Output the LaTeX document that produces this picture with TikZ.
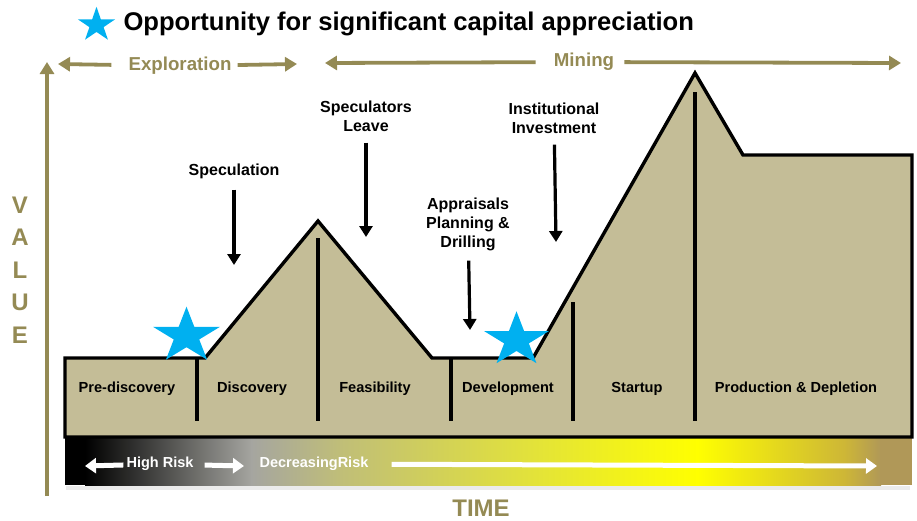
\documentclass[tikz,border=0pt]{standalone}
\usepackage{fontspec}
\setmainfont{Liberation Sans}
\usetikzlibrary{arrows.meta}
\definecolor{phaseolive}{HTML}{948A54}
\definecolor{mountaintan}{HTML}{C4BD97}
\definecolor{starblue}{HTML}{00B0F0}
\definecolor{riskgray}{RGB}{165,165,160}
\definecolor{riskolive}{RGB}{192,190,120}
\definecolor{risklime}{RGB}{228,228,55}
\definecolor{riskgold}{RGB}{205,182,55}
\definecolor{risktan}{RGB}{176,152,88}
\begin{document}
\begin{tikzpicture}[x=1pt, y=-1pt,
    phase/.style={inner sep=2pt, text=phaseolive, font=\fontsize{18.7}{20}\selectfont\bfseries},
    phasearrow/.style={phaseolive, line width=3.8pt, -{Triangle[length=12pt,width=14pt]}},
    axistext/.style={text=phaseolive, font=\fontsize{24}{26}\selectfont\bfseries},
    stage/.style={font=\fontsize{14.6}{16}\selectfont\bfseries},
    note/.style={align=center, inner sep=2pt, font=\fontsize{16}{19}\selectfont\bfseries},
    pointer/.style={line width=3.2pt, -{Triangle[length=11pt,width=13pt]}},
    divider/.style={line width=3.2pt},
    risk/.style={inner sep=2pt, text=white, font=\fontsize{14.5}{16}\selectfont\bfseries},
    riskarrow/.style={white, line width=5pt, -{Triangle[length=11pt,width=15pt]}},
    opstar/.pic={\fill[starblue] (-90:1) -- (-54:.382) -- (-18:1) -- (18:.382) -- (54:1)
      -- (90:.382) -- (126:1) -- (162:.382) -- (198:1) -- (234:.382) -- cycle;}]
  \useasboundingbox (0,0) rectangle (917,520);

  % legend
  \pic[xscale=19.5, yscale=18.2] (legendstar) at (96.5,25) {opstar};
  \node[anchor=west, font=\fontsize{25.6}{28}\selectfont\bfseries] (legend) at (120,24)
    {Opportunity for significant capital appreciation};

  % phases
  \node[phase] (explore) at (180,66) {Exploration};
  \coordinate (exleft) at (58,64);
  \coordinate (exright) at (297,64);
  \draw[phasearrow, shorten <=15pt] (explore) -- (exleft);
  \draw[phasearrow, shorten <=4pt] (explore) -- (exright);
  \node[phase] (mining) at (584,62) {Mining};
  \coordinate (minleft) at (325,63);
  \coordinate (minright) at (901,63);
  \draw[phasearrow, shorten <=16pt] (mining) -- (minleft);
  \draw[phasearrow, shorten <=8pt] (mining) -- (minright);

  % axes
  \coordinate (valuebase) at (47,496);
  \coordinate (valuetop) at (47,62);
  \draw[phasearrow] (valuebase) -- (valuetop);
  \foreach \ch [count=\i] in {V,A,L,U,E}
    \node[axistext] (value\i) at (20,{205+32.5*(\i-1)}) {\ch};
  \node[axistext] (time) at (481,508) {TIME};

  % risk bar
  \fill[black!8] (66,486) rectangle (910,490);
  \fill[black] (65,438) rectangle (86,485);
  \shade[left color=black, right color=riskgray] (85,438) rectangle (252,485);
  \shade[left color=riskgray, right color=riskolive] (251,438) rectangle (341,485);
  \shade[left color=riskolive, right color=risklime] (340,438) rectangle (541,485);
  \shade[left color=risklime, right color=yellow] (540,438) rectangle (698,485);
  \shade[left color=yellow, right color=riskgold] (697,438) rectangle (846,485);
  \shade[left color=riskgold, right color=risktan] (845,438) rectangle (881,485);
  \fill[risktan] (880,438) rectangle (912,485);
  \node[risk] (highrisk) at (160,464) {High Risk};
  \node[risk] (decrisk) at (314,464) {DecreasingRisk};
  \coordinate (riskleft) at (85,466);
  \coordinate (riskright) at (244,466);
  \coordinate (riskend) at (877,466);
  \draw[riskarrow, shorten <=1pt] (highrisk) -- (riskleft);
  \draw[riskarrow, shorten <=9pt] (highrisk) -- (riskright);
  \draw[riskarrow, shorten <=21pt] (decrisk) -- (riskend);

  % value curve
  \draw[line width=3.4pt, fill=mountaintan] (65,358) -- (205,358) -- (318,221) -- (432,358)
    -- (533,358) -- (695,73) -- (743,155) -- (912,155) -- (912,437) -- (65,437) -- cycle;
  \draw[divider] (197,358) -- (197,421);
  \draw[divider] (318,238) -- (318,421);
  \draw[divider] (451,358) -- (451,421);
  \draw[divider] (573,302) -- (573,421);
  \draw[divider] (695,92) -- (695,421);

  \node[stage] (prediscovery) at (127,389) {Pre-discovery};
  \node[stage] (discovery) at (252,389) {Discovery};
  \node[stage] (feasibility) at (375,389) {Feasibility};
  \node[stage] (development) at (508,389) {Development};
  \node[stage] (startup) at (637,389) {Startup};
  \node[stage] (production) at (796,389) {Production \& Depletion};

  \pic[xscale=35, yscale=29.3] (star1) at (186.5,336) {opstar};
  \pic[xscale=34, yscale=28.7] (star2) at (516.5,340) {opstar};

  % events
  \node[note] (speculation) at (234,171) {Speculation};
  \node[note] (leave) at (366,116) {Speculators\\Leave};
  \node[note] (appraisals) at (468,224) {Appraisals\\Planning \&\\Drilling};
  \node[note] (institution) at (554,118) {Institutional\\Investment};
  \coordinate (specend) at (234,265);
  \coordinate (leaveend) at (366,237);
  \coordinate (apprend) at (470,330);
  \coordinate (instend) at (556,242);
  \draw[pointer, shorten <=9pt] (speculation) -- (specend);
  \draw[pointer, shorten <=9pt] (leave) -- (leaveend);
  \draw[pointer, shorten <=8pt] (appraisals) -- (apprend);
  \draw[pointer, shorten <=9pt] (institution) -- (instend);
\end{tikzpicture}
\end{document}
